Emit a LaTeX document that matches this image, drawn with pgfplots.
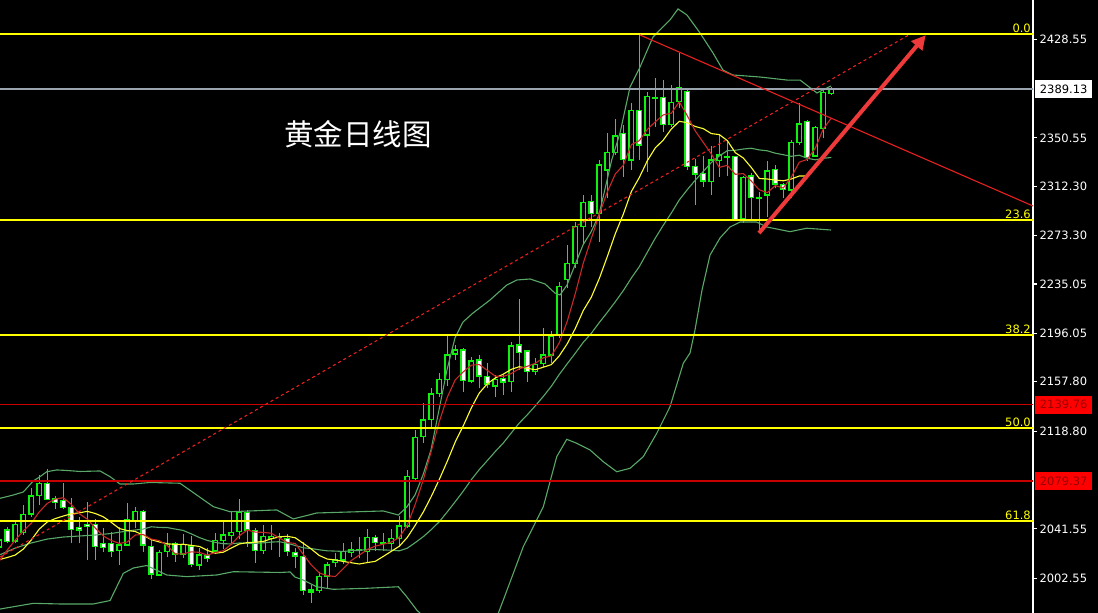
\documentclass[border=0pt]{standalone}
\usepackage{fontspec}
\setmainfont{DejaVu Sans}
\newfontfamily\cjk{Noto Sans CJK SC}
\usepackage{pgfplots}
\pgfplotsset{compat=1.18}
\usepackage{pgfplotstable}
\usetikzlibrary{arrows.meta}

\definecolor{candle}{HTML}{10F010}
\definecolor{band}{HTML}{58A868}
\definecolor{mared}{HTML}{C82828}
\definecolor{mayellow}{HTML}{FFFF30}
\definecolor{fib}{HTML}{FFFF00}
\definecolor{levelred}{HTML}{C80000}
\definecolor{bidgray}{HTML}{9AA4AE}
\definecolor{trendred}{HTML}{E82020}
\definecolor{arrowred}{HTML}{EE3A3A}
\definecolor{boxtext}{HTML}{960000}

% daily candles: index, open, high, low, close
\pgfplotstableread{
i O H L C
0 2027.2 2034.3 2024.9 2032.8
1 2040.7 2043.3 2030.1 2031.4
2 2032.0 2048.6 2030.1 2045.2
3 2038.5 2060.4 2036.7 2053.1
4 2053.3 2073.6 2051.2 2067.5
5 2068.1 2084.1 2060.4 2077.6
6 2077.6 2088.6 2064.4 2064.9
7 2065.7 2067.5 2057.3 2062.5
8 2063.8 2078.0 2057.0 2058.3
9 2058.6 2065.7 2030.1 2041.2
10 2042.8 2050.7 2030.1 2040.7
11 2045.2 2063.0 2017.0 2043.3
12 2045.2 2049.1 2017.0 2027.5
13 2030.1 2042.0 2023.5 2027.0
14 2030.1 2039.3 2019.6 2023.5
15 2024.3 2043.3 2013.0 2028.8
16 2028.8 2061.7 2028.8 2049.1
17 2047.2 2059.1 2042.0 2055.1
18 2055.1 2056.5 2023.5 2028.8
19 2027.5 2032.8 2001.7 2005.9
20 2005.1 2024.9 2004.3 2022.7
21 2023.5 2038.1 2019.0 2029.4
22 2029.6 2031.4 2015.6 2021.7
23 2021.7 2037.5 2018.3 2029.4
24 2028.0 2035.9 2011.2 2013.6
25 2013.0 2026.2 2009.1 2020.9
26 2020.3 2026.2 2015.6 2018.3
27 2024.1 2038.1 2021.7 2032.2
28 2032.2 2048.0 2025.4 2036.7
29 2036.1 2055.1 2028.8 2038.8
30 2039.3 2064.9 2033.3 2054.6
31 2054.6 2056.5 2027.5 2040.7
32 2040.1 2042.0 2014.3 2024.3
33 2024.3 2044.6 2021.7 2035.4
34 2034.1 2044.6 2024.9 2035.4
35 2034.7 2038.1 2019.6 2035.5
36 2034.1 2037.5 2020.1 2023.5
37 2022.7 2026.2 2010.4 2020.1
38 2019.6 2031.4 1989.3 1992.7
39 1991.7 1997.2 1983.2 1993.3
40 1992.7 2007.7 1990.7 2003.7
41 2003.7 2015.6 1993.8 2013.0
42 2014.8 2022.7 2011.2 2017.0
43 2017.0 2030.6 2013.9 2023.5
44 2022.7 2031.4 2019.0 2025.4
45 2024.5 2034.9 2018.3 2025.3
46 2023.5 2041.2 2015.6 2034.9
47 2034.9 2036.7 2024.3 2030.6
48 2030.0 2038.5 2024.3 2030.8
49 2030.1 2041.2 2024.3 2034.1
50 2034.1 2051.7 2027.5 2043.8
51 2043.8 2088.1 2042.0 2082.8
52 2081.5 2119.7 2080.2 2113.9
53 2114.4 2141.2 2109.2 2127.6
54 2128.1 2152.6 2122.3 2148.1
55 2148.7 2164.5 2146.0 2159.7
56 2159.7 2195.5 2154.4 2178.9
57 2179.7 2186.8 2175.0 2182.9
58 2182.9 2184.2 2149.9 2158.6
59 2158.4 2177.6 2156.6 2174.2
60 2175.0 2178.9 2152.6 2162.3
61 2161.8 2172.4 2152.6 2156.0
62 2154.4 2163.1 2146.0 2159.7
63 2160.2 2163.1 2147.3 2157.6
64 2157.8 2189.4 2149.9 2186.0
65 2186.8 2223.0 2167.1 2181.1
66 2182.1 2182.9 2157.8 2165.7
67 2165.7 2176.3 2163.1 2171.6
68 2172.4 2200.0 2169.2 2178.9
69 2178.9 2198.1 2172.4 2193.9
70 2194.7 2236.9 2192.1 2232.9
71 2238.8 2265.9 2231.6 2251.4
72 2251.4 2284.3 2247.4 2280.3
73 2280.3 2305.4 2265.9 2299.3
74 2300.1 2305.4 2280.3 2290.9
75 2290.9 2333.0 2268.5 2329.1
76 2325.1 2354.1 2302.8 2338.8
77 2338.8 2365.2 2337.0 2352.0
78 2354.1 2360.7 2319.8 2333.6
79 2333.0 2377.8 2325.1 2372.0
80 2372.0 2431.8 2333.0 2344.9
81 2352.8 2387.0 2323.8 2383.0
82 2381.6 2397.6 2359.3 2382.4
83 2382.3 2396.3 2355.4 2361.2
84 2361.2 2392.3 2359.3 2378.3
85 2379.1 2417.4 2373.9 2390.2
86 2387.0 2388.3 2325.1 2327.7
87 2327.7 2333.6 2297.5 2321.9
88 2322.5 2336.2 2311.5 2316.4
89 2315.9 2344.1 2305.4 2333.0
90 2332.5 2352.8 2319.8 2337.0
91 2335.4 2347.5 2320.4 2335.8
92 2335.6 2336.2 2285.6 2286.2
93 2287.0 2320.4 2283.5 2319.4
94 2320.4 2322.5 2286.2 2303.6
95 2303.4 2308.0 2275.1 2302.6
96 2305.4 2332.5 2288.2 2324.3
97 2325.7 2329.1 2310.7 2314.1
98 2313.5 2315.1 2302.8 2309.9
99 2309.3 2348.8 2302.8 2346.7
100 2346.7 2378.3 2344.9 2361.5
101 2363.3 2364.6 2332.5 2335.2
102 2336.2 2359.9 2335.2 2358.6
103 2358.1 2389.7 2350.2 2386.2
104 2385.7 2390.5 2384.4 2389.1
}\candles

% 5-day average (red)
\pgfplotstableread{
i p
0 2016.1
1 2024.9
2 2032.8
3 2039.9
4 2046.0
5 2055.0
6 2061.7
7 2065.1
8 2066.2
9 2060.9
10 2053.5
11 2049.2
12 2042.2
13 2035.9
14 2032.4
15 2030.0
16 2031.2
17 2036.7
18 2037.1
19 2033.5
20 2032.3
21 2028.4
22 2021.7
23 2021.8
24 2023.4
25 2023.0
26 2020.8
27 2022.9
28 2024.3
29 2029.4
30 2036.1
31 2040.6
32 2039.0
33 2038.8
34 2038.1
35 2034.3
36 2030.8
37 2030.0
38 2021.4
39 2013.0
40 2006.7
41 2004.6
42 2003.9
43 2010.1
44 2016.5
45 2020.8
46 2025.2
47 2027.9
48 2029.4
49 2031.1
50 2034.8
51 2044.4
52 2061.1
53 2080.4
54 2103.2
55 2126.4
56 2145.6
57 2159.4
58 2165.6
59 2170.9
60 2171.4
61 2166.8
62 2162.2
63 2162.0
64 2164.3
65 2168.1
66 2170.0
67 2172.4
68 2176.7
69 2178.2
70 2188.6
71 2205.7
72 2227.5
73 2251.6
74 2271.0
75 2290.2
76 2307.7
77 2322.0
78 2328.9
79 2345.1
80 2348.3
81 2357.1
82 2363.2
83 2368.7
84 2370.0
85 2379.0
86 2368.0
87 2355.9
88 2346.9
89 2337.8
90 2327.2
91 2328.8
92 2321.7
93 2322.3
94 2316.4
95 2309.5
96 2307.2
97 2312.8
98 2310.9
99 2319.5
100 2331.3
101 2333.5
102 2342.4
103 2357.6
104 2366.1
}\maFive

% 10-day average (yellow)
\pgfplotstableread{
i p
0 2017.3
1 2018.9
2 2020.9
3 2025.6
4 2032.8
5 2041.4
6 2047.0
7 2049.7
8 2051.7
9 2053.5
10 2054.2
11 2055.4
12 2053.7
13 2051.1
14 2046.7
15 2041.8
16 2040.2
17 2039.5
18 2036.5
19 2033.0
20 2031.2
21 2029.8
22 2029.2
23 2029.4
24 2028.5
25 2027.7
26 2024.6
27 2022.3
28 2023.1
29 2026.4
30 2029.6
31 2030.7
32 2031.0
33 2031.6
34 2033.7
35 2035.2
36 2035.7
37 2034.5
38 2030.1
39 2025.6
40 2020.5
41 2017.7
42 2017.0
43 2015.8
44 2014.8
45 2013.8
46 2014.9
47 2015.9
48 2019.8
49 2023.8
50 2027.8
51 2034.8
52 2044.5
53 2054.9
54 2067.2
55 2080.6
56 2095.0
57 2110.3
58 2123.0
59 2137.1
60 2148.9
61 2156.2
62 2160.8
63 2163.8
64 2167.6
65 2169.7
66 2168.4
67 2167.3
68 2169.3
69 2171.3
70 2178.3
71 2187.9
72 2199.9
73 2214.1
74 2224.6
75 2239.4
76 2256.7
77 2274.8
78 2290.2
79 2308.0
80 2319.2
81 2332.4
82 2342.6
83 2348.8
84 2357.5
85 2363.6
86 2362.5
87 2359.5
88 2357.8
89 2353.9
90 2353.1
91 2348.4
92 2338.8
93 2334.6
94 2327.1
95 2318.4
96 2318.0
97 2317.2
98 2316.6
99 2318.0
100 2320.4
101 2320.4
}\maTen

% Bollinger middle line
\pgfplotstableread{
i p
0 2020.9
2 2026.4
4 2030.4
6 2033.5
8 2035.1
10 2035.9
12 2036.7
14 2037.9
16 2039.9
18 2041.4
19 2043.2
20 2042.7
21 2042.6
22 2041.4
23 2040.3
24 2037.6
25 2034.7
26 2032.4
27 2030.9
28 2029.8
29 2029.7
30 2030.4
31 2030.2
32 2030.1
33 2030.5
34 2031.1
35 2031.4
36 2030.2
37 2028.4
38 2026.6
39 2026.0
40 2025.0
41 2024.2
42 2024.0
43 2023.7
44 2024.3
45 2024.5
46 2025.3
47 2025.2
48 2024.9
49 2024.7
50 2024.2
51 2026.3
52 2030.7
53 2035.4
54 2041.0
55 2047.2
56 2055.0
57 2063.1
58 2071.4
59 2080.4
60 2088.4
61 2095.5
62 2102.7
63 2109.4
64 2117.4
65 2125.2
66 2131.7
67 2138.8
68 2146.2
69 2154.2
70 2163.6
71 2172.1
72 2180.4
73 2189.0
74 2196.1
75 2204.6
76 2212.6
77 2221.0
78 2229.8
79 2239.7
80 2248.8
81 2260.1
82 2271.3
83 2281.5
84 2291.1
85 2301.5
86 2309.6
87 2317.1
88 2324.0
89 2331.0
90 2336.2
91 2340.4
92 2340.7
93 2341.7
94 2342.3
95 2341.0
96 2340.3
97 2338.4
98 2337.2
99 2335.9
100 2336.8
101 2334.4
102 2333.2
103 2334.4
104 2335.0
}\bbMid

% Bollinger upper band
\pgfplotstableread{
i p
0.09 2065.7
1.75 2068.3
3.00 2070.7
4.25 2079.4
5.09 2082.8
5.93 2086.7
7.18 2088.1
8.43 2087.7
10.09 2086.9
12.59 2087.3
13.84 2082.8
15.09 2077.0
16.75 2077.0
18.84 2078.2
22.59 2077.6
24.68 2068.3
26.75 2059.1
28.84 2055.1
31.34 2055.7
34.68 2056.5
36.75 2049.4
39.68 2054.1
43.84 2054.9
48.00 2055.7
49.88 2052.5
50.93 2058.8
51.96 2068.3
52.96 2084.1
53.96 2103.9
54.96 2135.5
55.96 2167.1
56.96 2192.4
57.96 2205.0
59.21 2212.1
61.34 2222.4
63.43 2234.2
64.68 2238.2
66.34 2239.0
68.21 2235.1
69.46 2227.9
70.09 2226.4
70.96 2234.2
71.96 2250.1
72.96 2265.9
73.96 2276.1
74.96 2289.6
76.55 2333.0
77.59 2354.4
78.84 2390.7
80.09 2406.5
81.71 2430.2
82.59 2435.8
83.84 2443.7
84.84 2452.4
85.96 2447.6
87.59 2433.4
89.21 2417.6
90.46 2404.1
91.71 2400.2
95.09 2398.6
98.46 2396.2
100.09 2396.2
102.21 2386.0
103.96 2391.5
}\bbUp

% Bollinger lower band
\pgfplotstableread{
i p
0.09 1978.2
4.25 1982.7
7.59 1982.2
11.75 1982.2
13.84 1984.9
14.68 1995.8
15.50 2006.4
16.75 2010.6
18.43 2012.6
20.93 2005.1
23.43 2003.8
27.18 2005.1
29.25 2007.7
35.09 2007.1
36.34 2007.5
36.96 2003.5
38.00 2001.1
39.68 1995.8
41.75 1993.8
45.93 1994.6
49.88 1995.8
50.93 1987.9
52.18 1977.4
52.96 1972.7
55.09 1957.7
58.84 1947.4
61.34 1957.7
63.00 1985.3
65.50 2027.5
68.00 2059.0
69.68 2098.6
70.93 2112.3
72.18 2109.2
73.84 2103.9
75.50 2094.6
77.18 2086.7
78.84 2089.4
80.50 2098.6
82.18 2117.1
83.84 2138.1
85.50 2172.4
86.34 2180.5
86.96 2198.7
87.84 2230.3
88.84 2257.9
90.09 2271.4
91.34 2280.1
92.59 2284.0
94.68 2284.0
95.93 2280.1
98.84 2276.4
100.93 2279.1
103.96 2277.7
}\bbLow

\tikzset{lbl/.style={font=\fontsize{11.5bp}{13bp}\selectfont}}
\pgfplotsset{
  chartbase/.style={
    scale only axis, width=1033bp, height=613bp,
    at={(0bp,0bp)}, anchor=south west,
    xmin=0.0875, xmax=129.2125, ymin=1975.07, ymax=2459.46,
  },
}

\begin{document}
\begin{tikzpicture}
\fill[black] (0bp,0bp) rectangle (1098bp,613bp);

% wicks
\begin{axis}[chartbase, hide axis]
\addplot[draw=none, error bars/.cd, y dir=plus, y explicit, error mark=none,
  error bar style={draw=candle, line width=1.3bp}]
  table[x=i, y=L, y error expr=\thisrow{H}-\thisrow{L}] {\candles};
\end{axis}

% bodies: hollow = up day, white = down day
\begin{axis}[chartbase, hide axis, ybar stacked, bar width=4.4bp]
\addplot[draw=none, fill=none] table[x=i, y expr={min(\thisrow{O},\thisrow{C})}] {\candles};
\addplot[draw=candle, fill=black, line width=1.3bp] table[x=i, y expr={max(\thisrow{C}-\thisrow{O},0)}] {\candles};
\addplot[draw=candle, fill=white, line width=1.3bp] table[x=i, y expr={max(\thisrow{O}-\thisrow{C},0)}] {\candles};
\end{axis}

% indicators, levels, scale
\begin{axis}[chartbase,
  clip mode=individual,
  axis x line=none, axis y line*=right,
  y axis line style={white, line width=1.2bp},
  tick align=outside, major tick length=4bp,
  ytick style={white, line width=1.2bp},
  ytick={2002.55,2041.55,2118.80,2157.80,2196.05,2235.05,2273.30,2312.30,2350.55,2428.55},
  yticklabels={2002.55,2041.55,2118.80,2157.80,2196.05,2235.05,2273.30,2312.30,2350.55,2428.55},
  yticklabel style={lbl, text=white, xshift=-1bp},
]
\addplot[band, line width=1.1bp] table[x=i, y=p] {\bbUp};
\addplot[band, line width=1.1bp] table[x=i, y=p] {\bbMid};
\addplot[band, line width=1.1bp] table[x=i, y=p] {\bbLow};
\addplot[mayellow, line width=1.1bp] table[x=i, y=p] {\maTen};
\addplot[mared, line width=1.1bp] table[x=i, y=p] {\maFive};

% Fibonacci levels
\addplot[fib, line width=1.4bp] coordinates {(0,2432.6) (130,2432.6)};
\addplot[fib, line width=1.4bp] coordinates {(0,2285.6) (130,2285.6)};
\addplot[fib, line width=1.4bp] coordinates {(0,2194.7) (130,2194.7)};
\addplot[fib, line width=1.4bp] coordinates {(0,2121.2) (130,2121.2)};
\addplot[fib, line width=1.4bp] coordinates {(0,2047.8) (130,2047.8)};
% red price levels and bid line
\addplot[levelred, line width=1.6bp] coordinates {(0,2139.76) (130,2139.76)};
\addplot[levelred, line width=1.6bp] coordinates {(0,2079.37) (130,2079.37)};
\addplot[bidgray, line width=1.2bp] coordinates {(0,2389.13) (130,2389.13)};

% trend lines and arrow
\addplot[trendred, line width=1.1bp, dash pattern=on 3bp off 3bp] coordinates {(0.09,2019.3) (113.6,2431.5)};
\addplot[trendred, line width=1.1bp] coordinates {(80.09,2431.8) (129.21,2296.7)};
\addplot[arrowred, line width=4bp, -{Triangle[length=14bp,width=14bp]}] coordinates {(94.96,2275.3) (115.8,2431.6)};

\node[lbl, text=fib, anchor=south east, inner sep=1bp, xshift=-1bp] at (axis cs:129.2125,2432.6) {0.0};
\node[lbl, text=fib, anchor=south east, inner sep=1bp, xshift=-1bp] at (axis cs:129.2125,2285.6) {23.6};
\node[lbl, text=fib, anchor=south east, inner sep=1bp, xshift=-1bp] at (axis cs:129.2125,2194.7) {38.2};
\node[lbl, text=fib, anchor=south east, inner sep=1bp, xshift=-1bp] at (axis cs:129.2125,2121.2) {50.0};
\node[lbl, text=fib, anchor=south east, inner sep=1bp, xshift=-1bp] at (axis cs:129.2125,2047.8) {61.8};

\node[lbl, anchor=west, xshift=2bp, fill=white, text=black, minimum width=57bp, minimum height=18bp, inner sep=0pt] at (axis cs:129.2125,2389.13) {2389.13};
\node[lbl, anchor=west, xshift=2bp, fill=red, text=boxtext, minimum width=57bp, minimum height=18bp, inner sep=0pt] at (axis cs:129.2125,2139.76) {2139.76};
\node[lbl, anchor=west, xshift=2bp, fill=red, text=boxtext, minimum width=57bp, minimum height=18bp, inner sep=0pt] at (axis cs:129.2125,2079.37) {2079.37};

\node[text=white, font=\cjk\fontsize{29.5bp}{32bp}\selectfont] at (axis cs:44.84,2353.6) {黄金日线图};
\end{axis}
\pgfresetboundingbox
\path (0bp,0bp) rectangle (1098bp,613bp);
\end{tikzpicture}
\end{document}
